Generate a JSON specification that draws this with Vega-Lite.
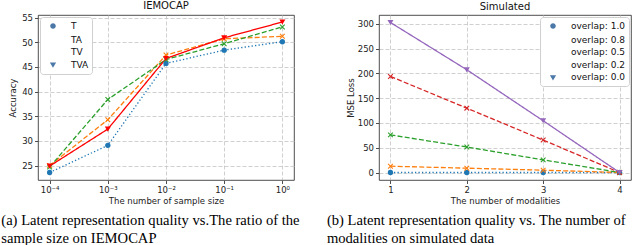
{
  "$schema": "https://vega.github.io/schema/vega-lite/v6.json",
  "padding": {"left": 1, "top": 0, "right": 0, "bottom": 0},
  "background": "white",
  "config": {
    "font": "DejaVu Sans",
    "view": {"stroke": "#222", "strokeWidth": 0.8},
    "title": {"font": "DejaVu Sans", "fontSize": 10, "fontWeight": "normal", "color": "#111", "offset": 3},
    "axis": {
      "labelFont": "DejaVu Sans", "labelFontSize": 8.5, "labelColor": "#222",
      "titleFont": "DejaVu Sans", "titleFontSize": 8.5, "titleFontWeight": "normal", "titleColor": "#222",
      "domain": false, "tickColor": "#222", "tickSize": 3.5, "tickWidth": 0.8,
      "gridColor": "#c4c4c4", "gridDash": [4, 2], "gridWidth": 0.8, "labelPadding": 2, "titlePadding": 4
    },
    "axisX": {"titlePadding": 2},
    "legend": {"title": null, "padding": 3, "fillColor": "white", "strokeColor": "#d0d0d0", "cornerRadius": 3, "symbolSize": 100, "symbolOffset": 4, "labelOffset": 12, "labelFontSize": 9, "labelFont": "DejaVu Sans", "labelColor": "#111", "labelAlign": "left", "rowPadding": 1.6, "symbolStrokeWidth": 1.3, "offset": 2}
  },
  "resolve": {"scale": {"x": "independent", "y": "independent", "color": "independent", "shape": "independent", "strokeDash": "independent"}, "legend": {"shape": "independent"}},
  "hconcat": [
    {
      "title": {"text": ["(a) Latent representation quality vs.The ratio of the", "sample size on IEMOCAP"], "orient": "bottom", "anchor": "start", "font": "Liberation Serif", "fontSize": 14.6, "fontWeight": "normal", "color": "#000", "lineHeight": 18, "offset": 8, "dx": -7},
      "vconcat": [
        {
          "title": "IEMOCAP",
          "width": 256, "height": 165,
          "data": {"values": [
            {"x": 0.0001, "y": 23.6, "s": "T"}, {"x": 0.001, "y": 29.1, "s": "T"}, {"x": 0.01, "y": 45.7, "s": "T"}, {"x": 0.1, "y": 48.4, "s": "T"}, {"x": 1, "y": 50.1, "s": "T"},
            {"x": 0.0001, "y": 25.0, "s": "TA"}, {"x": 0.001, "y": 34.3, "s": "TA"}, {"x": 0.01, "y": 47.4, "s": "TA"}, {"x": 0.1, "y": 50.7, "s": "TA"}, {"x": 1, "y": 51.2, "s": "TA"},
            {"x": 0.0001, "y": 24.7, "s": "TV"}, {"x": 0.001, "y": 38.4, "s": "TV"}, {"x": 0.01, "y": 46.5, "s": "TV"}, {"x": 0.1, "y": 49.7, "s": "TV"}, {"x": 1, "y": 53.1, "s": "TV"},
            {"x": 0.0001, "y": 24.9, "s": "TVA"}, {"x": 0.001, "y": 32.4, "s": "TVA"}, {"x": 0.01, "y": 46.7, "s": "TVA"}, {"x": 0.1, "y": 50.9, "s": "TVA"}, {"x": 1, "y": 54.1, "s": "TVA"}
          ]},
          "encoding": {
            "x": {"field": "x", "type": "quantitative", "scale": {"type": "log", "domain": [0.000063096, 1.58489], "nice": false},
                  "axis": {"values": [0.0001, 0.001, 0.01, 0.1, 1], "title": "The number of sample size", "labelExpr": "['10⁻⁴','10⁻³','10⁻²','10⁻¹','10⁰'][round(log(datum.value)/LN10)+4]"}},
            "y": {"field": "y", "type": "quantitative", "scale": {"domain": [22.08, 55.52], "nice": false, "zero": false},
                  "axis": {"values": [25, 30, 35, 40, 45, 50, 55], "title": "Accuracy"}}
          },
          "layer": [
            {"mark": {"type": "line", "strokeWidth": 1.3},
             "encoding": {
               "color": {"field": "s", "type": "nominal", "scale": {"domain": ["T", "TA", "TV", "TVA"], "range": ["#1f77b4", "#ff7f0e", "#2ca02c", "#ff0000"]}, "legend": null},
               "strokeDash": {"field": "s", "type": "nominal", "scale": {"domain": ["T", "TA", "TV", "TVA"], "range": [[1.3, 2.2], [5, 2.2], [5, 2.2], [1, 0]]}, "legend": null}
             }},
            {"transform": [{"filter": "datum.s == 'T'"}],
             "mark": {"type": "point", "filled": true, "size": 28, "shape": "circle", "color": "#1f77b4", "opacity": 1}},
            {"transform": [{"filter": "datum.s == 'TA'"}],
             "mark": {"type": "point", "filled": false, "size": 22, "strokeWidth": 1.1, "shape": "M-1,-1L1,1M-1,1L1,-1", "color": "#ff7f0e", "opacity": 1}},
            {"transform": [{"filter": "datum.s == 'TV'"}],
             "mark": {"type": "point", "filled": false, "size": 22, "strokeWidth": 1.1, "shape": "M-1,-1L1,1M-1,1L1,-1", "color": "#2ca02c", "opacity": 1}},
            {"transform": [{"filter": "datum.s == 'TVA'"}],
             "mark": {"type": "point", "filled": true, "size": 36, "shape": "triangle-down", "color": "#ff0000", "opacity": 1}},
            {"transform": [{"filter": "datum.x < 0"}],
             "mark": {"type": "point", "filled": true, "opacity": 1},
             "encoding": {
               "shape": {"field": "s", "type": "nominal", "scale": {"domain": ["T", "TA", "TV", "TVA"], "range": [
                 "M-1.6,0H-1.3M-1.0,0H-0.7M-0.4,0H-0.1M0.2,0H0.5M0.8,0H1.1M1.4,0H1.6M0.56,0A0.56,0.56 0 1,1 -0.56,0A0.56,0.56 0 1,1 0.56,0Z",
                 "M-1.6,0H-0.8M-0.4,0H0.4M0.8,0H1.6M-0.45,-0.45L0.45,0.45M-0.45,0.45L0.45,-0.45",
                 "M-1.6,0H-0.8M-0.4,0H0.4M0.8,0H1.6M-0.45,-0.45L0.45,0.45M-0.45,0.45L0.45,-0.45",
                 "M-1.6,0H1.6M-0.62,-0.45L0.62,-0.45L0,0.6Z"]},
                 "legend": {"orient": "top-left", "labelAlign": "left",
                   "encode": {"symbols": {
                     "fill": {"condition": [{"test": "datum.value == 'T'", "value": "#1f77b4"}, {"test": "datum.value == 'TA'", "value": "#ff7f0e"}, {"test": "datum.value == 'TV'", "value": "#2ca02c"}], "value": "#ff0000"},
                     "stroke": {"condition": [{"test": "datum.value == 'T'", "value": "#1f77b4"}, {"test": "datum.value == 'TA'", "value": "#ff7f0e"}, {"test": "datum.value == 'TV'", "value": "#2ca02c"}], "value": "#ff0000"},
                     "strokeWidth": {"value": 1.3},
                     "opacity": {"value": 1}
                   }}}}
             }}
          ],
          "resolve": {"scale": {"shape": "independent"}}
        }
      ]
    },
    {
      "title": {"text": ["(b) Latent representation quality vs. The number of", "modalities on simulated data"], "orient": "bottom", "anchor": "start", "font": "Liberation Serif", "fontSize": 14.6, "fontWeight": "normal", "color": "#000", "lineHeight": 18, "offset": 8, "dx": -19},
      "vconcat": [
        {
          "title": "Simulated",
          "width": 252, "height": 165,
          "data": {"values": [
            {"x": 1, "y": 0, "s": "overlap: 1.0"}, {"x": 2, "y": 0, "s": "overlap: 1.0"}, {"x": 3, "y": 0, "s": "overlap: 1.0"}, {"x": 4, "y": 0, "s": "overlap: 1.0"},
            {"x": 1, "y": 12.7, "s": "overlap: 0.8"}, {"x": 2, "y": 8.7, "s": "overlap: 0.8"}, {"x": 3, "y": 4.7, "s": "overlap: 0.8"}, {"x": 4, "y": 0, "s": "overlap: 0.8"},
            {"x": 1, "y": 76, "s": "overlap: 0.5"}, {"x": 2, "y": 51.5, "s": "overlap: 0.5"}, {"x": 3, "y": 25.5, "s": "overlap: 0.5"}, {"x": 4, "y": 0, "s": "overlap: 0.5"},
            {"x": 1, "y": 194, "s": "overlap: 0.2"}, {"x": 2, "y": 130, "s": "overlap: 0.2"}, {"x": 3, "y": 65.5, "s": "overlap: 0.2"}, {"x": 4, "y": 0, "s": "overlap: 0.2"},
            {"x": 1, "y": 303, "s": "overlap: 0.0"}, {"x": 2, "y": 207.5, "s": "overlap: 0.0"}, {"x": 3, "y": 104.5, "s": "overlap: 0.0"}, {"x": 4, "y": 0, "s": "overlap: 0.0"}
          ]},
          "encoding": {
            "x": {"field": "x", "type": "quantitative", "scale": {"domain": [0.85, 4.15], "nice": false, "zero": false},
                  "axis": {"values": [1, 2, 3, 4], "format": "d", "title": "The number of modalities"}},
            "y": {"field": "y", "type": "quantitative", "scale": {"domain": [-15.15, 318.15], "nice": false, "zero": false},
                  "axis": {"values": [0, 50, 100, 150, 200, 250, 300], "title": "MSE Loss", "titlePadding": 2}}
          },
          "layer": [
            {"mark": {"type": "line", "strokeWidth": 1.3},
             "encoding": {
               "color": {"field": "s", "type": "nominal", "scale": {"domain": ["overlap: 1.0", "overlap: 0.8", "overlap: 0.5", "overlap: 0.2", "overlap: 0.0"], "range": ["#1f77b4", "#ff7f0e", "#2ca02c", "#d62728", "#9467bd"]}, "legend": null},
               "strokeDash": {"field": "s", "type": "nominal", "scale": {"domain": ["overlap: 1.0", "overlap: 0.8", "overlap: 0.5", "overlap: 0.2", "overlap: 0.0"], "range": [[1.3, 2.2], [5, 2.2], [5, 2.2], [5, 2.2], [1, 0]]}, "legend": null}
             }},
            {"transform": [{"filter": "datum.s == 'overlap: 1.0'"}],
             "mark": {"type": "point", "filled": true, "size": 28, "shape": "circle", "color": "#1f77b4", "opacity": 1}},
            {"transform": [{"filter": "datum.s == 'overlap: 0.8'"}],
             "mark": {"type": "point", "filled": false, "size": 22, "strokeWidth": 1.1, "shape": "M-1,-1L1,1M-1,1L1,-1", "color": "#ff7f0e", "opacity": 1}},
            {"transform": [{"filter": "datum.s == 'overlap: 0.5'"}],
             "mark": {"type": "point", "filled": false, "size": 22, "strokeWidth": 1.1, "shape": "M-1,-1L1,1M-1,1L1,-1", "color": "#2ca02c", "opacity": 1}},
            {"transform": [{"filter": "datum.s == 'overlap: 0.2'"}],
             "mark": {"type": "point", "filled": false, "size": 22, "strokeWidth": 1.1, "shape": "M-1,-1L1,1M-1,1L1,-1", "color": "#d62728", "opacity": 1}},
            {"transform": [{"filter": "datum.s == 'overlap: 0.0'"}],
             "mark": {"type": "point", "filled": true, "size": 36, "shape": "triangle-down", "color": "#9467bd", "opacity": 1}},
            {"transform": [{"filter": "datum.x < 0"}],
             "mark": {"type": "point", "filled": true, "opacity": 1},
             "encoding": {
               "shape": {"field": "s", "type": "nominal", "scale": {"domain": ["overlap: 1.0", "overlap: 0.8", "overlap: 0.5", "overlap: 0.2", "overlap: 0.0"], "range": [
                 "M-1.6,0H-1.3M-1.0,0H-0.7M-0.4,0H-0.1M0.2,0H0.5M0.8,0H1.1M1.4,0H1.6M0.56,0A0.56,0.56 0 1,1 -0.56,0A0.56,0.56 0 1,1 0.56,0Z",
                 "M-1.6,0H-0.8M-0.4,0H0.4M0.8,0H1.6M-0.45,-0.45L0.45,0.45M-0.45,0.45L0.45,-0.45",
                 "M-1.6,0H-0.8M-0.4,0H0.4M0.8,0H1.6M-0.45,-0.45L0.45,0.45M-0.45,0.45L0.45,-0.45",
                 "M-1.6,0H-0.8M-0.4,0H0.4M0.8,0H1.6M-0.45,-0.45L0.45,0.45M-0.45,0.45L0.45,-0.45",
                 "M-1.6,0H1.6M-0.62,-0.45L0.62,-0.45L0,0.6Z"]},
                 "legend": {"orient": "top-right", "labelAlign": "left",
                   "encode": {"symbols": {
                     "fill": {"condition": [{"test": "datum.value == 'overlap: 1.0'", "value": "#1f77b4"}, {"test": "datum.value == 'overlap: 0.8'", "value": "#ff7f0e"}, {"test": "datum.value == 'overlap: 0.5'", "value": "#2ca02c"}, {"test": "datum.value == 'overlap: 0.2'", "value": "#d62728"}], "value": "#9467bd"},
                     "stroke": {"condition": [{"test": "datum.value == 'overlap: 1.0'", "value": "#1f77b4"}, {"test": "datum.value == 'overlap: 0.8'", "value": "#ff7f0e"}, {"test": "datum.value == 'overlap: 0.5'", "value": "#2ca02c"}, {"test": "datum.value == 'overlap: 0.2'", "value": "#d62728"}], "value": "#9467bd"},
                     "strokeWidth": {"value": 1.3},
                     "opacity": {"value": 1}
                   }}}}
             }}
          ],
          "resolve": {"scale": {"shape": "independent"}}
        }
      ]
    }
  ],
  "spacing": 26
}
